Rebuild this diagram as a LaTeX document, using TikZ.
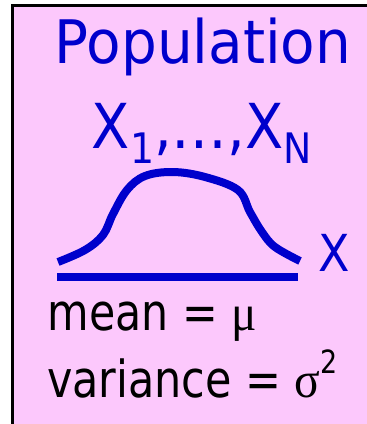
\documentclass[tikz,border=0pt]{standalone}
\usepackage{fontspec}
\setmainfont{DejaVu Sans Condensed}
\newfontfamily\symf{Liberation Serif}
\definecolor{pinkbg}{RGB}{252,200,252}
\definecolor{popblue}{RGB}{0,0,204}
\tikzset{
  txt/.style={anchor=base west, inner sep=0pt, outer sep=0pt},
  bluetxt/.style={txt, text=popblue},
  thickblue/.style={draw=popblue, line width=8pt}
}
\begin{document}
\begin{tikzpicture}[x=1pt,y=-1pt]
\useasboundingbox (0,0) rectangle (367,424);
\fill[pinkbg] (12,5) rectangle (367,424);
\draw[line width=3pt] (12,424) -- (12,5) -- (367,5);
\node[bluetxt, font=\fontsize{60}{60}\selectfont, xscale=1.045] (pop) at (55,63) {Population};
\node[bluetxt, font=\fontsize{62}{62}\selectfont] (xs) at (92,148) {X\raisebox{-15pt}{\fontsize{42}{42}\selectfont 1},…,X\raisebox{-15pt}{\fontsize{42}{42}\selectfont N}};
\draw[thickblue] plot[smooth, tension=0.6] coordinates {(58,262) (85,250) (103,235) (113,214) (127,190) (145,176) (173,172) (205,177) (238,190) (250,212) (262,232) (275,247) (300,261)};
\draw[thickblue] (57,277) -- (298,277);
\node[bluetxt, font=\fontsize{51}{51}\selectfont] (xl) at (318,271) {X};
\node[txt, font=\fontsize{51}{51}\selectfont, xscale=0.93] (mean) at (48,330) {mean = {\symf μ}};
\node[txt, font=\fontsize{51}{51}\selectfont, xscale=0.935] (var) at (47,397) {variance = {\symf σ}\raisebox{24pt}{\fontsize{32}{32}\selectfont 2}};
\end{tikzpicture}
\end{document}
